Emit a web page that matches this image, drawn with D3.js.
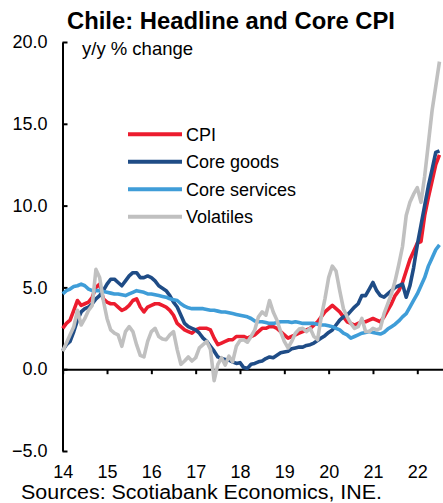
<!DOCTYPE html>
<html>
<head>
<meta charset="utf-8">
<script src="https://cdn.jsdelivr.net/npm/d3@7"></script>
<style>
  html, body { margin: 0; padding: 0; background: #fff; }
  svg { display: block; font-family: "Liberation Sans", Arial, sans-serif; }
</style>
</head>
<body>
<svg id="chart" width="443" height="503"></svg>
<script>
// ---- Data (monthly, Jan 2014 – Jul 2022, y/y % change) ----
const startYear = 2014;
const seriesNames = ["CPI", "Core goods", "Core services", "Volatiles"];
const seriesColors = ["#EC1C2E", "#1F4C86", "#3F9DD8", "#C0C0C0"];

const cpi = [
  2.5, 2.8, 3.0, 3.6, 4.2, 3.9, 4.0, 4.1, 4.4, 5.0, 5.2, 4.3,
  4.1, 4.0, 4.0, 3.8, 3.6, 3.7, 3.9, 4.2, 4.3, 3.8, 3.5, 3.8,
  3.9, 4.0, 4.0, 3.9, 3.8, 3.6, 3.3, 2.8, 2.6, 2.4, 2.3, 2.2,
  2.4, 2.5, 2.5, 2.5, 2.4, 1.9, 1.5, 1.6, 1.7, 1.8, 1.8, 2.0,
  2.0, 2.0, 1.9, 2.0, 2.1, 2.3, 2.5, 2.5, 2.6, 2.6, 2.5, 2.3,
  2.1, 1.9, 2.0, 2.1, 2.2, 2.3, 2.4, 2.5, 2.7, 2.9, 3.2, 3.5,
  3.7, 3.9, 3.7, 3.5, 3.2, 2.9, 2.8, 2.7, 2.8, 2.9, 2.9, 3.0,
  3.1, 3.0, 2.9, 3.2, 3.6, 4.0, 4.5, 4.8, 5.3, 6.0, 6.7, 7.2,
  7.7, 7.8, 9.4, 10.5, 11.5, 12.5, 13.1
];
const coreGoods = [
  1.15, 1.5, 1.7, 2.3, 3.0, 3.5, 3.7, 3.8, 4.0, 4.3, 4.5, 4.8,
  5.2, 5.5, 5.5, 5.3, 5.1, 5.4, 5.7, 5.9, 5.9, 5.6, 5.6, 5.7,
  5.6, 5.4, 5.1, 4.95, 4.8, 4.5, 4.1, 3.8, 3.3, 2.8, 2.6, 2.5,
  2.4, 2.2, 1.9, 1.7, 1.4, 1.1, 0.75, 0.65, 0.6, 0.55, 0.45, 0.35,
  0.4, 0.1, 0.05, 0.3, 0.35, 0.45, 0.5, 0.65, 0.75, 0.7, 0.85, 1.0,
  1.05, 1.1, 1.25, 1.3, 1.35, 1.35, 1.45, 1.5, 1.6, 1.75, 1.9, 2.05,
  2.25, 2.4, 2.7, 3.0, 3.2, 3.3, 3.55, 3.8, 4.0, 4.5, 4.5, 4.9,
  5.3, 4.8, 4.5, 4.4, 4.6, 4.8, 5.0, 5.1, 5.2, 4.4, 5.1, 6.2,
  7.6, 8.8, 10.0, 11.2, 12.2, 13.25, 13.35
];
const coreServices = [
  4.6, 4.8, 4.9, 5.05, 5.1, 5.2, 5.1, 4.9, 4.8, 4.8, 4.8, 4.75,
  4.7, 4.65, 4.6, 4.6, 4.55, 4.5, 4.6, 4.7, 4.8, 4.75, 4.7, 4.6,
  4.6, 4.55, 4.5, 4.45, 4.4, 4.3, 4.25, 4.2, 4.0, 3.85, 3.75, 3.7,
  3.7, 3.7, 3.7, 3.65, 3.6, 3.6, 3.55, 3.5, 3.5, 3.45, 3.4, 3.35,
  3.3, 3.25, 3.2, 3.1, 2.95, 2.9, 2.9, 2.85, 2.8, 2.8, 2.85, 2.9,
  2.9, 2.9, 2.85, 2.9, 2.85, 2.8, 2.8, 2.8, 2.8, 2.75, 2.7, 2.7,
  2.65, 2.6, 2.5, 2.4, 2.2, 2.1, 1.9, 2.0, 2.1, 2.2, 2.25, 2.3,
  2.25, 2.2, 2.15, 2.25, 2.45, 2.6, 2.75, 2.95, 3.2, 3.4, 3.8, 4.2,
  4.6, 5.1, 5.6, 6.3, 6.8, 7.3, 7.6
];
const volatiles = [
  1.1, 1.6, 2.1, 2.6, 3.6, 2.7, 3.1, 3.6, 3.9, 6.1, 5.6, 4.2,
  3.1, 2.4, 2.2, 2.1, 1.4, 2.3, 2.6, 2.3, 1.5, 0.85, 0.75, 1.7,
  2.3, 2.5, 2.0, 1.85, 1.8, 2.1, 2.3, 1.2, 0.3, 0.5, 0.75, 0.5,
  0.7, 1.3, 1.5, 1.7, 1.2, -0.7, 0.3, 0.7, 0.25, 0.8, 0.45, 1.4,
  1.75, 1.8, 1.65, 2.0, 2.4, 3.2, 3.5, 3.3, 4.2, 3.5, 3.0, 2.3,
  1.7, 1.3, 1.7, 2.2, 2.45, 2.5, 2.3, 2.5, 2.0, 1.8, 3.2, 4.3,
  5.6, 6.3, 6.0, 4.8, 3.7, 3.2, 2.8, 2.5, 2.6, 3.1, 2.3, 2.3,
  2.5, 2.4, 2.5, 3.4, 4.0, 4.6, 5.4, 6.4, 7.5, 9.4, 10.2, 10.7,
  11.1, 10.2, 11.8, 13.8, 15.8, 17.3, 18.8
];
const seriesValues = [cpi, coreGoods, coreServices, volatiles];

const yTicks = [-5, 0, 5, 10, 15, 20];
const xTickYears = [2014, 2015, 2016, 2017, 2018, 2019, 2020, 2021, 2022];
const xTickLabels = ["14", "15", "16", "17", "18", "19", "20", "21", "22"];

const titleText = "Chile: Headline and Core CPI";
const subtitleText = "y/y % change";
const sourceText = "Sources: Scotiabank Economics, INE.";

// ---- Layout ----
const svg = d3.select("#chart");
const x = d3.scaleLinear().domain([2014, 2022.58]).range([62.7, 443]);
const y = d3.scaleLinear().domain([-5, 20]).range([451, 42]);

// Title
svg.append("text")
  .attr("x", 231).attr("y", 29)
  .attr("text-anchor", "middle")
  .attr("font-weight", "bold")
  .attr("font-size", 23.8)
  .attr("fill", "#000")
  .text(titleText);

// Subtitle
svg.append("text")
  .attr("x", 82).attr("y", 55)
  .attr("font-size", 18.5)
  .attr("fill", "#000")
  .text(subtitleText);

// Y axis
const yAxis = d3.axisLeft(y)
  .tickValues(yTicks)
  .tickFormat(d3.format(".1f"))
  .tickSizeInner(-5)
  .tickSizeOuter(0)
  .tickPadding(15);
const gy = svg.append("g")
  .attr("transform", "translate(62.5,0)")
  .call(yAxis);
gy.select(".domain").attr("stroke", "#000").attr("stroke-width", 2);
gy.selectAll(".tick line").attr("stroke", "#000").attr("stroke-width", 2);
gy.selectAll(".tick text")
  .attr("font-size", 18)
  .attr("font-family", "Liberation Sans, Arial, sans-serif")
  .attr("fill", "#000");

// X axis at y = 0
const xAxis = d3.axisBottom(x)
  .tickValues(xTickYears)
  .tickFormat((d, i) => xTickLabels[i])
  .tickSizeInner(5)
  .tickSizeOuter(0);
const gx = svg.append("g")
  .attr("transform", `translate(0,${y(0)})`)
  .call(xAxis);
gx.select(".domain").attr("stroke", "#000").attr("stroke-width", 2);
gx.selectAll(".tick line").attr("stroke", "#000").attr("stroke-width", 2);
gx.selectAll(".tick text")
  .attr("y", 478 - y(0))
  .attr("dy", 0)
  .attr("font-size", 18)
  .attr("font-family", "Liberation Sans, Arial, sans-serif")
  .attr("fill", "#000");

// Lines
const line = d3.line()
  .x((d, i) => x(startYear + i / 12))
  .y(d => y(d));

const plot = svg.append("g");
seriesValues.forEach((vals, k) => {
  plot.append("path")
    .datum(vals)
    .attr("fill", "none")
    .attr("stroke", seriesColors[k])
    .attr("stroke-width", 3.6)
    .attr("stroke-linejoin", "round")
    .attr("d", line);
});

// Legend
const legend = svg.append("g");
seriesNames.forEach((name, k) => {
  const ly = 134.3 + k * 27.5;
  legend.append("line")
    .attr("x1", 128).attr("x2", 182)
    .attr("y1", ly).attr("y2", ly)
    .attr("stroke", seriesColors[k])
    .attr("stroke-width", 4);
  legend.append("text")
    .attr("x", 186).attr("y", ly + 6.5)
    .attr("font-size", 18)
    .attr("fill", "#000")
    .text(name);
});

// Source
svg.append("text")
  .attr("x", 21).attr("y", 499)
  .attr("font-size", 20)
  .attr("textLength", 361)
  .attr("lengthAdjust", "spacingAndGlyphs")
  .attr("fill", "#000")
  .text(sourceText);
</script>
</body>
</html>
